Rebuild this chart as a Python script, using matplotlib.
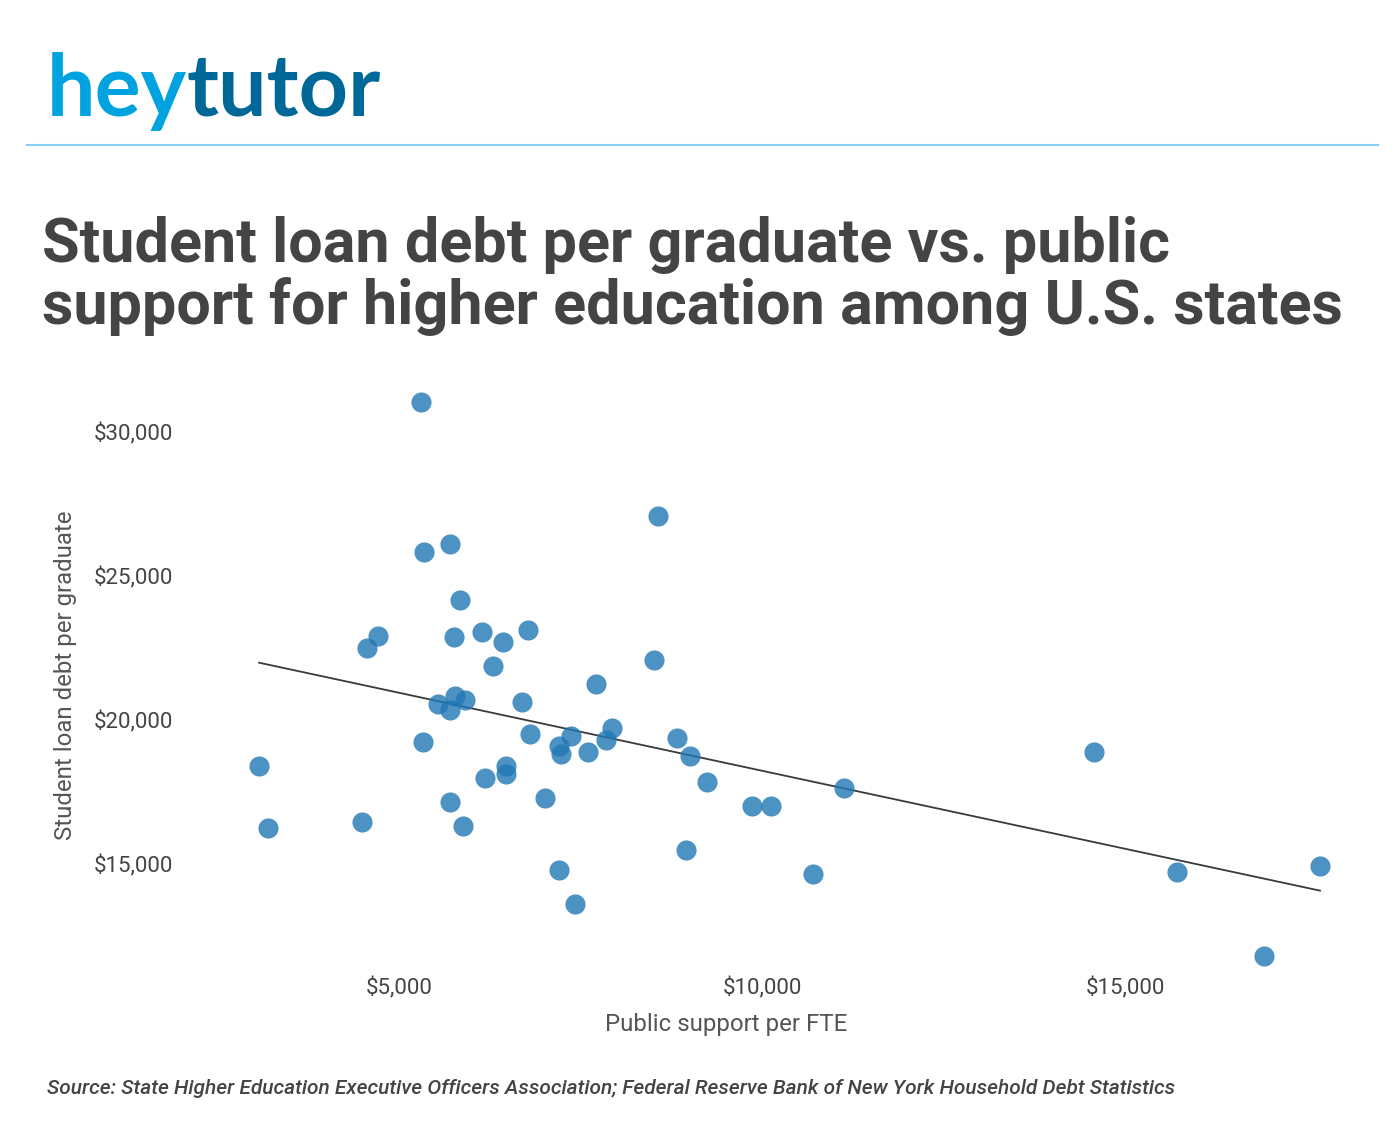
import matplotlib
matplotlib.use('Agg')
import matplotlib.pyplot as plt
import numpy as np

plt.rcParams['font.family'] = ['Roboto', 'DejaVu Sans']

# public support per FTE ($) vs student loan debt per graduate ($)
support = [5303, 8567, 5702, 5344, 5840, 4711, 4559, 5758, 6143, 6777,
           6433, 6295, 8512, 7713, 5771, 5537, 5702, 5909, 6694, 7934,
           6804, 7369, 7851, 8829, 5331, 7204, 7231, 7603, 9008, 3072,
           6474, 6474, 6185, 9242, 11129, 7011, 5702, 9862, 10124, 5882,
           4490, 3196, 8953, 7204, 10702, 7424, 14573, 15716, 17686, 16915]
debt = [31042, 27083, 26111, 25833, 24167, 22917, 22500, 22882, 23056, 23125,
        22708, 21875, 22083, 21250, 20833, 20556, 20347, 20694, 20625, 19722,
        19514, 19444, 19306, 19375, 19236, 19097, 18819, 18889, 18750, 18403,
        18403, 18125, 17986, 17847, 17639, 17292, 17153, 17014, 17014, 16319,
        16458, 16250, 15486, 14792, 14653, 13611, 18889, 14722, 14931, 11806]

xticks = [5000, 10000, 15000]
yticks = [15000, 20000, 25000, 30000]

txt = '#444444'

fig = plt.figure(figsize=(14, 11.3), dpi=100)

# logo + rule
t1 = fig.text(47/1400, 1-116/1130, 'hey', fontsize=62, family='Lato', weight='bold',
              color='#00a3e0', ha='left', va='baseline')
fig.canvas.draw()
bb = t1.get_window_extent(fig.canvas.get_renderer())
fig.text(bb.x1/1400, 1-116/1130, 'tutor', fontsize=62, family='Lato', weight='bold',
         color='#006899', ha='left', va='baseline')
fig.add_artist(plt.Line2D([27/1400, 1378/1400], [1-145/1130, 1-145/1130],
                          color='#84cff2', lw=1.5))

# title
fig.text(42/1400, 1-262/1130, 'Student loan debt per graduate vs. public',
         fontsize=44, weight='bold', color=txt, ha='left', va='baseline')
fig.text(42/1400, 1-324/1130, 'support for higher education among U.S. states',
         fontsize=44, weight='bold', color=txt, ha='left', va='baseline')

ax = fig.add_axes([180/1400, 1-968/1130, 1165/1400, 583/1130])
ax.scatter(support, debt, s=210, color='#1f77b4', alpha=0.8, linewidths=0, zorder=3)

coef = np.polyfit(support, debt, 1)
xl = np.array([min(support), max(support)])
ax.plot(xl, np.polyval(coef, xl), color='#3a3a3a', lw=1.3, zorder=2)

ax.set_xlim(1983, 18030)
ax.set_ylim(11389, 31632)
ax.set_xticks(xticks)
ax.set_yticks(yticks)
ax.set_xticklabels(['${:,}'.format(v) for v in xticks])
ax.set_yticklabels(['${:,}'.format(v) for v in yticks])
ax.tick_params(length=0, labelsize=16, labelcolor=txt)
ax.tick_params(axis='y', pad=5)
ax.tick_params(axis='x', pad=7)
for s in ax.spines.values():
    s.set_visible(False)

fig.text(726/1400, 1-1024/1130, 'Public support per FTE', fontsize=17.3,
         color='#555555', ha='center', va='center')
fig.text(66/1400, 1-675/1130, 'Student loan debt per graduate', fontsize=17.3,
         color='#555555', ha='center', va='center', rotation=90)

fig.text(47/1400, 1-1088/1130,
         'Source: State Higher Education Executive Officers Association; '
         'Federal Reserve Bank of New York Household Debt Statistics',
         fontsize=15, style='italic', weight='medium', color=txt,
         ha='left', va='center')

fig.savefig('out.png', dpi=100)
